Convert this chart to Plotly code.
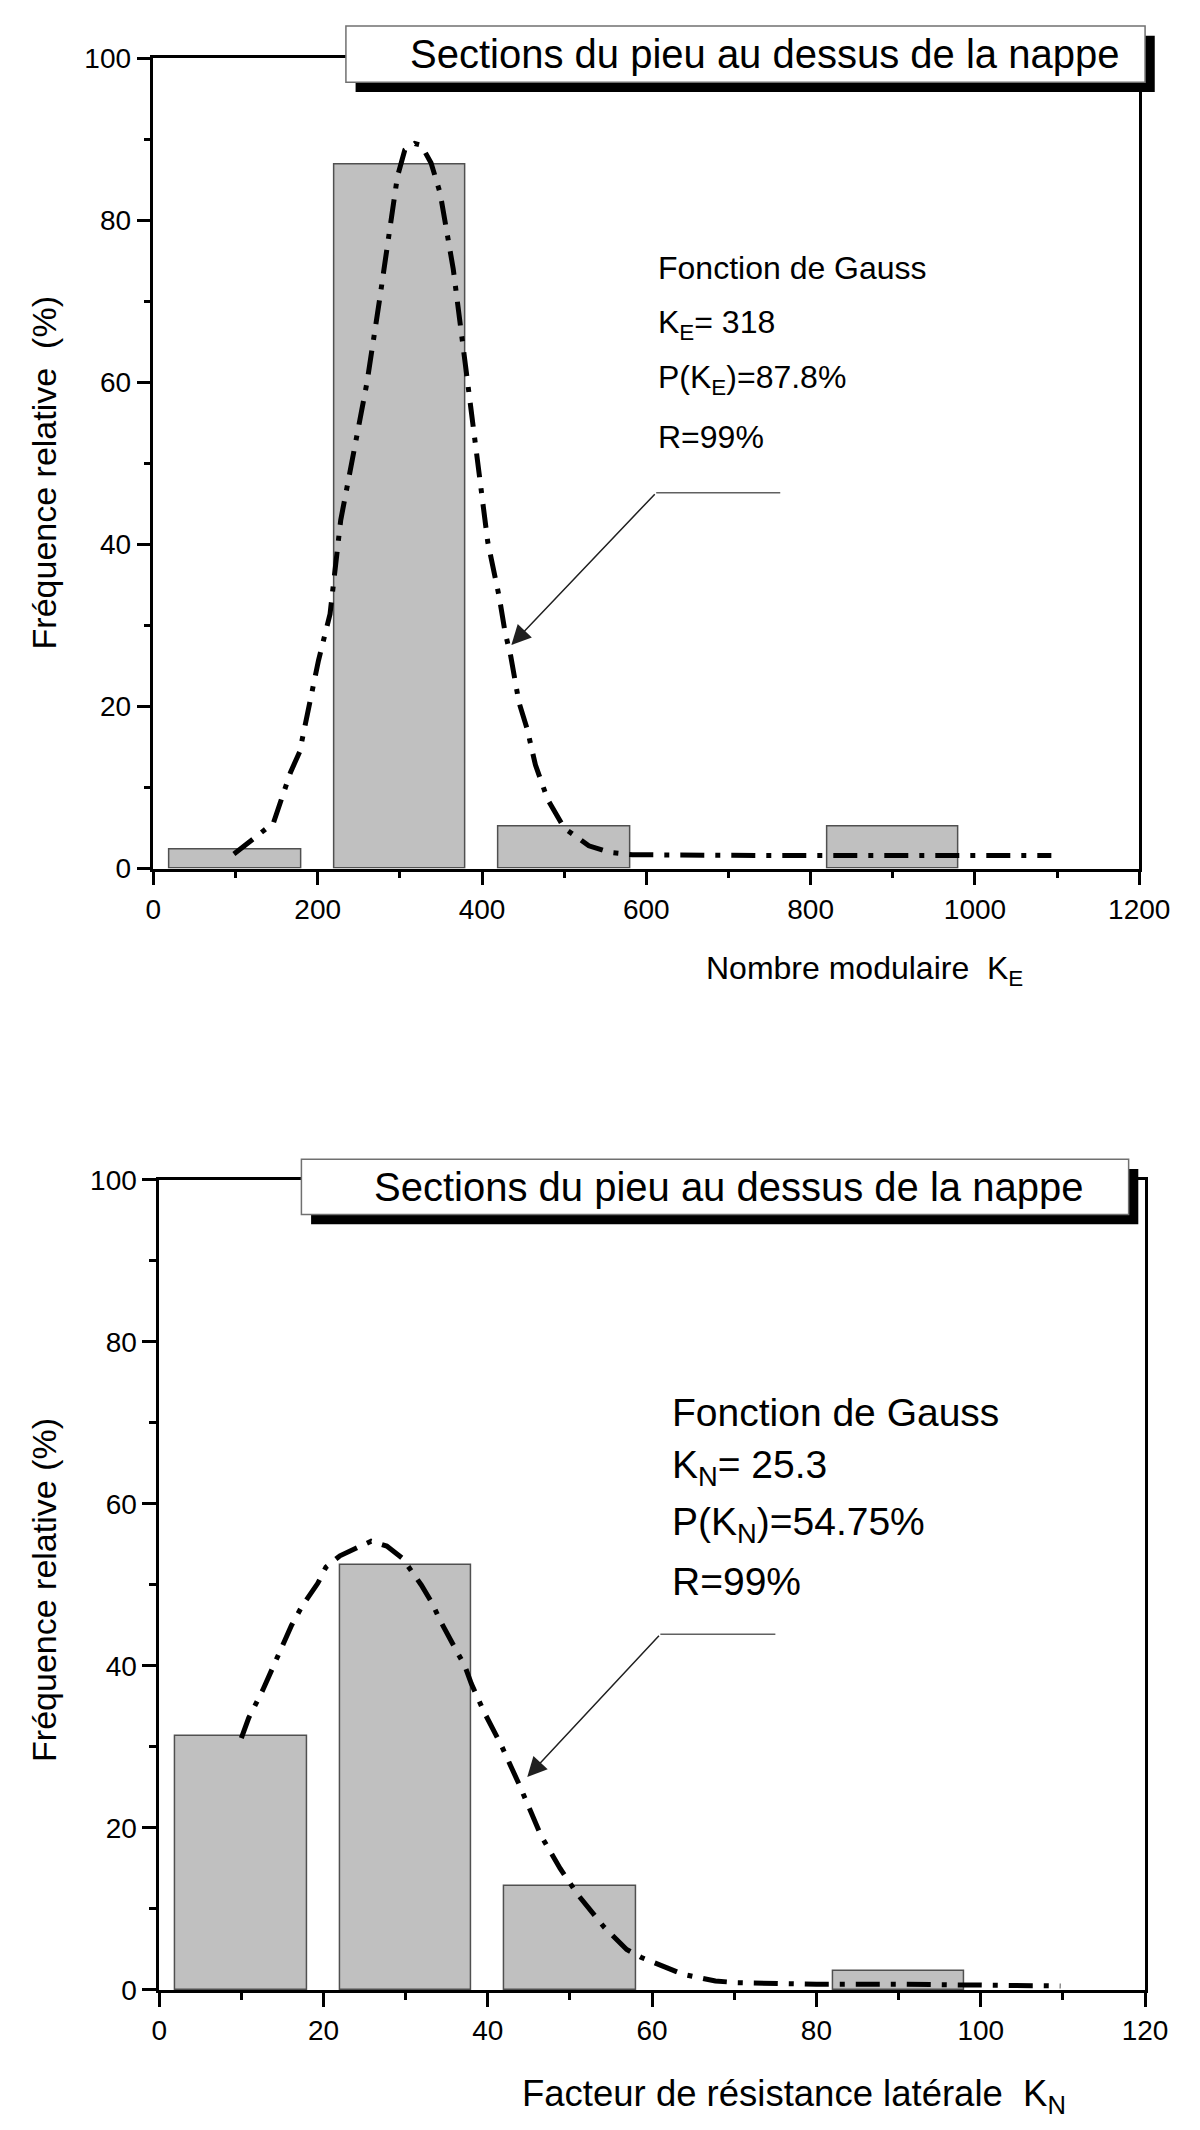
import plotly.graph_objects as go

W, H = 1200, 2130
FONT = "Liberation Sans, Arial, sans-serif"

# ---------------- data : top chart (Nombre modulaire K_E) ----------------
ke_bin_centers = [100, 300, 500, 900]
ke_freq = [2.4, 86.9, 5.2, 5.2]
ke_bin_width = 160
ke_fit_x = [98, 146, 167, 178, 191, 201, 215, 228, 245, 260, 275, 290, 297, 306, 318,
            326, 338, 349, 353, 365, 380, 395, 407, 421, 428, 435, 445, 455, 465, 480,
            500, 530, 555, 583, 650, 750, 850, 950, 1050, 1093]
ke_fit_y = [1.8, 5.6, 11.9, 14.4, 20.8, 25.7, 31.4, 43.0, 52.0, 60.0, 70.0, 80.0, 85.4, 88.7, 89.5,
            89.3, 87.1, 83.4, 81.0, 74.0, 62.0, 50.0, 40.3, 33.5, 29.2, 26.2, 20.5, 17.2, 12.8, 8.5,
            5.0, 2.8, 2.0, 1.7, 1.6, 1.6, 1.6, 1.6, 1.6, 1.6]

# ---------------- data : bottom chart (Facteur de résistance latérale K_N) ----------------
kn_bin_centers = [10, 30, 50, 90]
kn_freq = [31.4, 52.5, 12.9, 2.3]
kn_bin_width = 16
kn_fit_x = [10, 10.9, 12.6, 13.6, 15.1, 16.1, 17.4, 19.3, 20.3, 22.0, 25.8, 27.7, 29.6, 31.9,
            33.2, 34.2, 35.9, 37.2, 38.0, 39.5, 41.6, 43.8, 46.5, 48.8, 51.0, 54.2, 56.9, 58.7,
            63.7, 67.7, 70.4, 80, 90, 100, 109.7]
kn_fit_y = [31.1, 33.6, 37.0, 39.2, 42.8, 45.0, 47.4, 50.2, 52.2, 53.6, 55.4, 54.8, 53.3, 50.0,
            47.8, 45.6, 42.4, 40.0, 37.8, 34.4, 30.3, 25.4, 19.0, 15.0, 11.7, 7.7, 5.0, 4.0,
            1.95, 1.1, 0.9, 0.7, 0.7, 0.6, 0.5]

title_text = "Sections du pieu au dessus de la nappe"
ke_lines = ["Fonction de Gauss", "K<sub>E</sub>= 318", "P(K<sub>E</sub>)=87.8%", "R=99%"]
kn_lines = ["Fonction de Gauss", "K<sub>N</sub>= 25.3", "P(K<sub>N</sub>)=54.75%", "R=99%"]


def px(x):
    return x / W


def py(y):
    return 1 - y / H


fig = go.Figure()

bar_style = dict(color="#c0c0c0", line=dict(color="#505050", width=1.5))
fit_style = dict(color="black", width=5, dash="24px,11px,5px,11px")

fig.add_trace(go.Bar(x=ke_bin_centers, y=ke_freq, width=ke_bin_width, marker=bar_style,
                     xaxis="x", yaxis="y", showlegend=False))
fig.add_trace(go.Scatter(x=ke_fit_x, y=ke_fit_y, mode="lines", line=fit_style,
                         xaxis="x", yaxis="y", showlegend=False))
fig.add_trace(go.Bar(x=kn_bin_centers, y=kn_freq, width=kn_bin_width, marker=bar_style,
                     xaxis="x2", yaxis="y2", showlegend=False))
fig.add_trace(go.Scatter(x=kn_fit_x, y=kn_fit_y, mode="lines", line=fit_style,
                         xaxis="x2", yaxis="y2", showlegend=False))

tickfont = dict(family=FONT, size=28, color="black")


def axis(domain, rng, dtick, minor_dtick, anchor):
    return dict(domain=domain, range=rng, anchor=anchor, showline=True, linecolor="black",
                linewidth=2.5, mirror=True, ticks="outside", ticklen=14, tickwidth=2.5,
                tickcolor="black", tick0=0, dtick=dtick,
                minor=dict(dtick=minor_dtick, ticks="outside", ticklen=7, tickwidth=2.5,
                           tickcolor="black", showgrid=False),
                showgrid=False, zeroline=False, tickfont=tickfont, fixedrange=True)


layout = dict(
    width=W, height=H, margin=dict(l=0, r=0, t=0, b=0),
    paper_bgcolor="white", plot_bgcolor="white", bargap=0,
    font=dict(family=FONT, color="black"),
    xaxis=axis([px(142), px(1161)], [0, 1200], 200, 100, "y"),
    yaxis=axis([py(858), py(36)], [0, 100], 20, 10, "x"),
    xaxis2=axis([px(148), px(1167)], [0, 120], 20, 10, "y2"),
    yaxis2=axis([py(1996), py(1174)], [0, 100], 20, 10, "x2"),
)
fig.update_layout(**layout)

shapes = []
annotations = []


def title_box(x0, x1, y0, y1, off, text_shift):
    shapes.append(dict(type="rect", xref="paper", yref="paper", x0=px(x0 + off), x1=px(x1 + off),
                       y0=py(y1 + off), y1=py(y0 + off), fillcolor="black",
                       line=dict(width=0), layer="above"))
    shapes.append(dict(type="rect", xref="paper", yref="paper", x0=px(x0), x1=px(x1),
                       y0=py(y1), y1=py(y0), fillcolor="white",
                       line=dict(color="#707070", width=1.5), layer="above"))
    annotations.append(dict(xref="paper", yref="paper", x=px((x0 + x1) / 2 + text_shift),
                            y=py((y0 + y1) / 2), text=title_text, showarrow=False,
                            xanchor="center", yanchor="middle",
                            font=dict(family=FONT, size=40, color="black")))


title_box(341, 1167, 3, 60, 10, 20)
title_box(295, 1150, 1153, 1209, 10, 14)

# fit description text
for i, t in enumerate(ke_lines):
    annotations.append(dict(xref="x", yref="y", x=612, y=[74.1, 67.2, 60.4, 53.3][i], text=t,
                            showarrow=False, xanchor="left", yanchor="middle",
                            font=dict(family=FONT, size=32, color="black")))
for i, t in enumerate(kn_lines):
    annotations.append(dict(xref="x2", yref="y2", x=62.2, y=[71.3, 64.5, 57.5, 50.4][i], text=t,
                            showarrow=False, xanchor="left", yanchor="middle",
                            font=dict(family=FONT, size=39, color="black")))

# leader lines with arrows
shapes.append(dict(type="line", xref="x", yref="y", x0=612, x1=763, y0=46.4, y1=46.4,
                   line=dict(color="#606060", width=1.5)))
annotations.append(dict(xref="x", yref="y", axref="x", ayref="y", x=435.7, y=27.6, ax=612, ay=46.4,
                        text="", showarrow=True, arrowhead=2, arrowsize=2.6, arrowwidth=1.5,
                        arrowcolor="#202020"))
shapes.append(dict(type="line", xref="x2", yref="y2", x0=61.0, x1=75.0, y0=43.9, y1=43.9,
                   line=dict(color="#606060", width=1.5)))
annotations.append(dict(xref="x2", yref="y2", axref="x2", ayref="y2", x=44.8, y=26.3, ax=61.0, ay=43.9,
                        text="", showarrow=True, arrowhead=2, arrowsize=2.6, arrowwidth=1.5,
                        arrowcolor="#202020"))

# axis titles
annotations.append(dict(xref="paper", yref="paper", x=px(711), y=py(962),
                        text="Nombre modulaire\u00a0 K<sub>E</sub>", showarrow=False,
                        xanchor="left", yanchor="middle", font=dict(family=FONT, size=32, color="black")))
annotations.append(dict(xref="paper", yref="paper", x=px(521), y=py(2104),
                        text="Facteur de résistance latérale\u00a0 K<sub>N</sub>", showarrow=False,
                        xanchor="left", yanchor="middle", font=dict(family=FONT, size=36.5, color="black")))
annotations.append(dict(xref="paper", yref="paper", x=px(29), y=py(457),
                        text="Fréquence relative\u00a0 (%)", showarrow=False, textangle=-90,
                        xanchor="center", yanchor="middle", font=dict(family=FONT, size=34, color="black")))
annotations.append(dict(xref="paper", yref="paper", x=px(29), y=py(1590),
                        text="Fréquence relative (%)", showarrow=False, textangle=-90,
                        xanchor="center", yanchor="middle", font=dict(family=FONT, size=34, color="black")))

fig.update_layout(shapes=shapes, annotations=annotations)
fig.write_html("out.html")
